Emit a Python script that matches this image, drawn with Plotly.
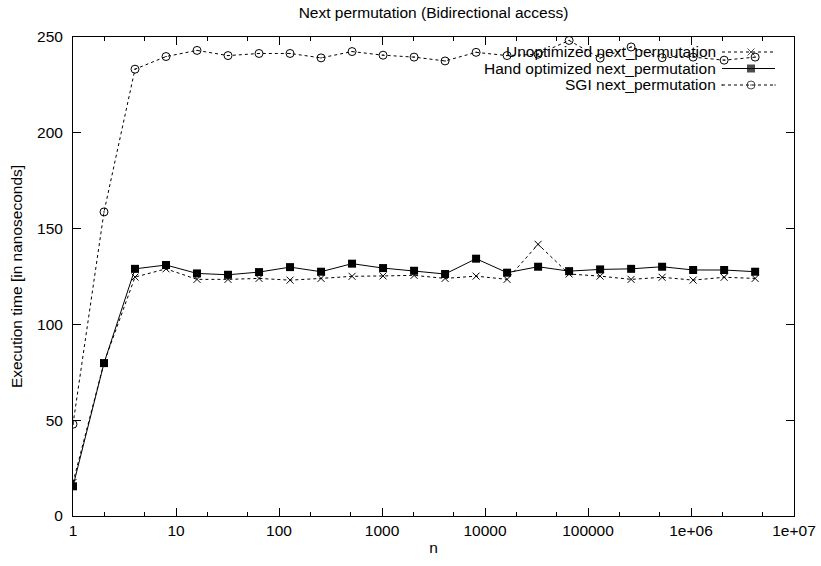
import plotly.graph_objects as go

# ---- data ----
n_values = [1, 2, 4, 8, 16, 32, 64, 128, 256, 512, 1024, 2048, 4096, 8192,
            16384, 32768, 65536, 131072, 262144, 524288, 1048576, 2097152, 4194304]
unoptimized = [17.5, 80.0, 124.7, 129.0, 123.5, 123.5, 124.0, 123.1, 124.0, 125.1, 125.3, 125.6,
               124.0, 125.2, 123.5, 141.8, 126.3, 125.2, 123.5, 124.6, 123.1, 124.6, 124.0]
hand_optimized = [15.5, 79.8, 129.0, 131.0, 126.6, 125.9, 127.3, 129.9, 127.5, 131.7, 129.4, 128.0,
                  126.3, 134.3, 127.0, 130.1, 127.8, 128.7, 129.0, 130.1, 128.4, 128.4, 127.5]
sgi = [47.9, 158.7, 233.2, 239.8, 243.0, 240.3, 241.4, 241.4, 239.1, 242.4, 240.5, 239.5,
       237.5, 242.0, 240.3, 241.0, 248.2, 239.0, 244.8, 239.2, 239.5, 237.9, 239.5]

series_names = ["Unoptimized next_permutation", "Hand optimized next_permutation", "SGI next_permutation"]
x_tickvals = [1, 10, 100, 1000, 10000, 100000, 1000000, 10000000]
x_ticktext = ["1", "10", "100", "1000", "10000", "100000", "1e+06", "1e+07"]
x_minor = [2, 5, 20, 50, 200, 500, 2000, 5000, 20000, 50000, 200000, 500000, 2000000, 5000000]
y_tickvals = [0, 50, 100, 150, 200, 250]

FONT = "Liberation Sans, Arial, sans-serif"
FS = 15.5

W, H = 821, 566
L, R, T, B = 73, 27, 37, 50
PW, PH = W - L - R, H - T - B

styles = [
    dict(line=dict(color="black", width=1, dash="dot"),
         marker=dict(symbol="x-thin-open", size=7, line=dict(color="black", width=1), color="black")),
    dict(line=dict(color="black", width=1),
         marker=dict(symbol="square", size=8, color="black", line=dict(width=0))),
    dict(line=dict(color="black", width=1, dash="dot"),
         marker=dict(symbol="circle-open-dot", size=8, color="black", line=dict(color="black", width=1))),
]
values = [unoptimized, hand_optimized, sgi]

fig = go.Figure()
for name, vals, st in zip(series_names, values, styles):
    fig.add_trace(go.Scatter(x=n_values, y=vals, mode="lines+markers", name=name,
                             line=st["line"], marker=st["marker"], showlegend=False))

# ---- custom gnuplot-style key (text right-aligned, sample to the right) ----
def fx(px):
    return (px - L) / PW

def fy(py):
    return (H - B - py) / PH

key_rows = [52, 68.5, 85]
for name, st, ry in zip(series_names, styles, key_rows):
    fig.add_annotation(text=name, xref="paper", yref="paper", x=fx(718), y=fy(ry),
                       xanchor="right", yanchor="middle", showarrow=False,
                       font=dict(family=FONT, size=FS, color="black"))
    mk = dict(st["marker"])
    mk["size"] = [0, st["marker"]["size"], 0]
    fig.add_trace(go.Scatter(x=[fx(722), fx(751), fx(775)], y=[fy(ry)] * 3,
                             xaxis="x2", yaxis="y2", mode="lines+markers",
                             line=st["line"], marker=mk, showlegend=False, hoverinfo="skip"))

axis_common = dict(showline=True, linecolor="black", linewidth=1, mirror="ticks",
                   ticks="inside", tickcolor="black", tickwidth=1, showgrid=False, zeroline=False,
                   automargin=False,
                   tickfont=dict(family=FONT, size=FS, color="black"))

fig.update_layout(
    width=W, height=H,
    margin=dict(l=L, r=R, t=T, b=B, pad=0),
    paper_bgcolor="white", plot_bgcolor="white",
    title=dict(text="Next permutation (Bidirectional access)", x=0.5, xref="paper",
               y=1 - 13 / H, yref="container", xanchor="center", yanchor="middle",
               font=dict(family=FONT, size=FS, color="black")),
    xaxis=dict(type="log", range=[0, 7], tickvals=x_tickvals, ticktext=x_ticktext, ticklen=8,
               ticklabelstandoff=0,
               minor=dict(tickvals=x_minor, ticks="inside", ticklen=4, tickcolor="black", showgrid=False),
               title=dict(text="n", standoff=4, font=dict(family=FONT, size=FS, color="black")),
               **axis_common),
    yaxis=dict(range=[0, 250], tickvals=y_tickvals, ticklen=8, ticklabelstandoff=6,
               title=dict(text="Execution time [in nanoseconds]", standoff=10,
                          font=dict(family=FONT, size=FS, color="black")),
               **axis_common),
    xaxis2=dict(overlaying="x", range=[0, 1], visible=False, fixedrange=True),
    yaxis2=dict(overlaying="y", range=[0, 1], visible=False, fixedrange=True),
    showlegend=False,
)

fig.write_html("out.html")
